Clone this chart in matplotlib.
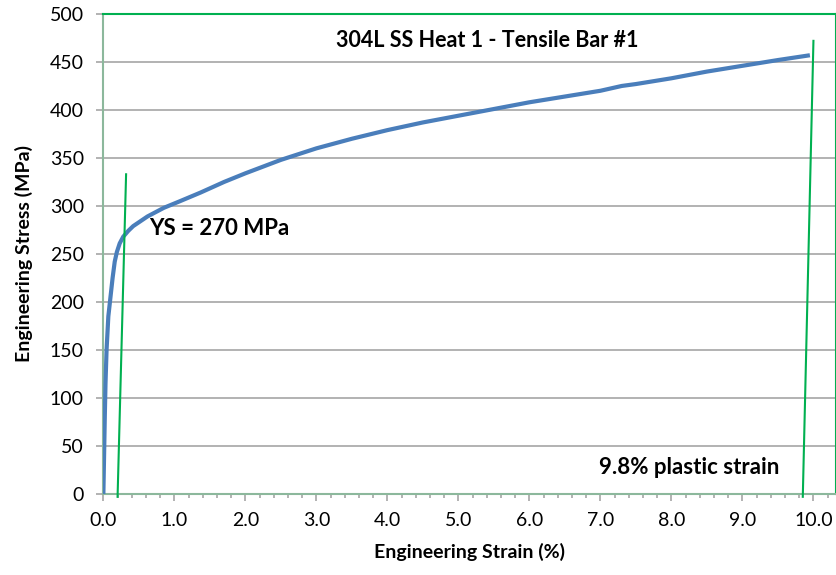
import matplotlib.pyplot as plt
import numpy as np

# engineering stress-strain curve
strain = [0.0, 0.01, 0.02, 0.03, 0.045, 0.07, 0.10, 0.13, 0.16, 0.19, 0.23, 0.28,
          0.35, 0.42, 0.52, 0.62, 0.85, 1.08, 1.37, 1.7, 2.0, 2.5, 3.0, 3.5,
          4.0, 4.5, 5.0, 5.5, 6.0, 6.5, 7.0, 7.3, 7.5, 8.0, 8.5, 9.0, 9.5, 9.95]
stress = [0, 40, 80, 115, 150, 185, 205, 225, 242, 252, 261, 268,
          274, 279, 284, 289, 298, 305, 314, 325, 334, 348, 360, 370,
          379, 387, 394, 401, 408, 414, 420, 425, 427, 433, 440, 446, 452, 457]

# 0.2% offset line and plastic strain line
offset_x = [0.2, 0.32]
offset_y = [-3, 333]
plastic_x = [9.85, 10.0]
plastic_y = [-3, 472]

title = "304L SS Heat 1 - Tensile Bar #1"
ys_label = "YS = 270 MPa"
plastic_label = "9.8% plastic strain"

plt.rcParams['font.family'] = ['Lato', 'DejaVu Sans']

fig = plt.figure(figsize=(8.37, 5.75), dpi=100)
ax = fig.add_axes([0.1235, 0.141, 0.8755, 0.8347])

green = '#00b050'
grey = '#a6a6a6'

ax.set_xlim(0, 10.32)
ax.set_ylim(0, 500)
ax.set_yticks(np.arange(0, 501, 50))
ax.set_xticks(np.arange(0, 10.01, 1.0))
ax.set_xticks(np.arange(0, 10.31, 0.2), minor=True)
ax.set_xticklabels(["%.1f" % v for v in np.arange(0, 10.01, 1.0)])
ax.grid(axis='y', color=grey, linewidth=1.2, zorder=0)
ax.set_axisbelow(True)

ax.plot(strain, stress, color='#4a7ebb', linewidth=3, solid_capstyle='butt',
        solid_joinstyle='round', zorder=3)
ax.plot(offset_x, offset_y, color=green, linewidth=1.5, clip_on=False, zorder=4)
ax.plot(plastic_x, plastic_y, color=green, linewidth=1.5, clip_on=False, zorder=4)

for s in ['top', 'right']:
    ax.spines[s].set_color(green)
    ax.spines[s].set_linewidth(1.5)
for s in ['left', 'bottom']:
    ax.spines[s].set_color('#8cb89c')
    ax.spines[s].set_linewidth(1.5)

ax.tick_params(axis='both', which='major', labelsize=14, color=grey, length=5, width=1.2)
ax.tick_params(axis='x', which='minor', color=grey, length=3, width=1.2)
ax.tick_params(axis='x', which='major', pad=8)
ax.tick_params(axis='y', which='major', pad=9)

ax.set_xlabel("Engineering Strain (%)", fontsize=14, fontweight='bold', labelpad=10)
ax.set_ylabel("Engineering Stress (MPa)", fontsize=14, fontweight='bold', labelpad=12)

ax.text(5.4, 472, title, fontsize=15.5, fontweight='bold', ha='center', va='center')
ax.text(0.65, 276, ys_label, fontsize=16, fontweight='bold', ha='left', va='center')
ax.text(6.98, 28, plastic_label, fontsize=16, fontweight='bold', ha='left', va='center')

fig.savefig("out.png", dpi=100)
